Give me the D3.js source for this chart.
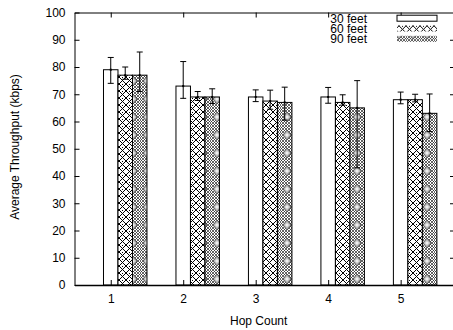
<!DOCTYPE html>
<html>
<head>
<meta charset="utf-8">
<script src="https://cdnjs.cloudflare.com/ajax/libs/d3/7.8.5/d3.min.js"></script>
<style>
body { margin: 0; background: #fff; }
svg { display: block; font-family: 'Liberation Sans', Arial, sans-serif; }
</style>
</head>
<body>
<script>
//chart data
var hops = [1, 2, 3, 4, 5];
var seriesNames = ['30 feet', '60 feet', '90 feet'];
var feet30 = [79, 73, 69, 69, 68];
var feet60 = [77, 69, 67.5, 67, 68];
var feet90 = [77, 69, 67, 65, 63];
//error bar low / high ends
var low30 = [74, 68.5, 67.3, 66.7, 66.5];
var high30 = [83.5, 82, 71.6, 72.5, 70.8];
var low60 = [75.5, 67.7, 64.5, 66, 67.2];
var high60 = [80, 71, 71.5, 69.8, 70];
var low90 = [71, 66.6, 60.5, 43, 56.3];
var high90 = [85.5, 72, 72.6, 75, 70.1];
var yTicks = [0, 10, 20, 30, 40, 50, 60, 70, 80, 90, 100];

var svgWidth = 453;
var svgHeight = 330;

var margin = {top: 12.5, left: 74.5, bottom: 285, right: 455};

var svg = d3.select('body')
    .append('svg')
    .attr('width', svgWidth)
    .attr('height', svgHeight);

var xScale = d3.scaleLinear().domain([0.5, 5.75]).range([margin.left, margin.right]);
var yScale = d3.scaleLinear().domain([0, 100]).range([margin.bottom, margin.top]);

//fill patterns, a rough stand-in for the gnuplot ones
var defs = svg.append('defs');

var p60 = defs.append('pattern')
    .attr('id', 'p60')
    .attr('patternUnits', 'userSpaceOnUse')
    .attr('width', 7)
    .attr('height', 7);
p60.append('rect').attr('width', 7).attr('height', 7).attr('fill', '#fff');
p60.append('path')
    .attr('d', 'M0,0L7,7M7,0L0,7')
    .attr('stroke', '#000')
    .attr('stroke-width', 1);
p60.append('rect').attr('x', 3).attr('y', 0).attr('width', 1).attr('height', 1).attr('fill', '#000');

var fine = defs.append('pattern')
    .attr('id', 'fine')
    .attr('patternUnits', 'userSpaceOnUse')
    .attr('width', 3)
    .attr('height', 3);
fine.append('rect').attr('width', 3).attr('height', 3).attr('fill', '#fff');
fine.append('path')
    .attr('d', 'M0,0L3,3M3,0L0,3')
    .attr('stroke', '#222')
    .attr('stroke-width', 0.7);

var p90 = defs.append('pattern')
    .attr('id', 'p90')
    .attr('patternUnits', 'userSpaceOnUse')
    .attr('width', 14)
    .attr('height', 18);
p90.append('rect').attr('width', 14).attr('height', 18).attr('fill', 'url(#fine)');
p90.append('path')
    .attr('d', 'M7,4L11,9L7,14L3,9Z')
    .attr('fill', '#bbb')
    .attr('stroke', '#444')
    .attr('stroke-width', 0.8);
p90.append('path')
    .attr('d', 'M7,7L9,9L7,11L5,9Z')
    .attr('fill', '#eee');

var fills = ['#fff', 'url(#p60)', 'url(#p90)'];

//one row per bar
var values = [feet30, feet60, feet90];
var lows = [low30, low60, low90];
var highs = [high30, high60, high90];
var bars = [];
seriesNames.forEach(function(name, s){
    hops.forEach(function(h, i){
        bars.push({hop: h, s: s, v: values[s][i], lo: lows[s][i], hi: highs[s][i]});
    });
});

var barW = xScale(0.2) - xScale(0);

var chart = svg.append('g');

chart.selectAll('rect.bar')
    .data(bars)
    .enter()
    .append('rect')
    .attr('class', 'bar')
    .attr('x', function(d){ return xScale(d.hop + 0.2 * d.s) - barW / 2; })
    .attr('y', function(d){ return yScale(d.v); })
    .attr('width', barW)
    .attr('height', function(d){ return yScale(0) - yScale(d.v); })
    .attr('fill', function(d){ return fills[d.s]; })
    .attr('stroke', '#000')
    .attr('stroke-width', 1);

//error bars
var err = chart.selectAll('g.err')
    .data(bars)
    .enter()
    .append('g')
    .attr('class', 'err')
    .attr('stroke', '#000')
    .attr('stroke-width', 1);

err.append('line')
    .attr('x1', function(d){ return xScale(d.hop + 0.2 * d.s); })
    .attr('x2', function(d){ return xScale(d.hop + 0.2 * d.s); })
    .attr('y1', function(d){ return yScale(d.lo); })
    .attr('y2', function(d){ return yScale(d.hi); });
err.append('line')
    .attr('x1', function(d){ return xScale(d.hop + 0.2 * d.s) - 3; })
    .attr('x2', function(d){ return xScale(d.hop + 0.2 * d.s) + 3; })
    .attr('y1', function(d){ return yScale(d.lo); })
    .attr('y2', function(d){ return yScale(d.lo); });
err.append('line')
    .attr('x1', function(d){ return xScale(d.hop + 0.2 * d.s) - 3; })
    .attr('x2', function(d){ return xScale(d.hop + 0.2 * d.s) + 3; })
    .attr('y1', function(d){ return yScale(d.hi); })
    .attr('y2', function(d){ return yScale(d.hi); });
err.append('rect')
    .attr('x', function(d){ return xScale(d.hop + 0.2 * d.s) - 1; })
    .attr('y', function(d){ return yScale(d.v) - 1; })
    .attr('width', 2)
    .attr('height', 2)
    .attr('fill', '#000')
    .attr('stroke', 'none');

//axes, gnuplot style with inward ticks on all four sides
var leftAxis = d3.axisLeft(yScale).tickValues(yTicks).tickSizeInner(-5).tickSizeOuter(0).tickPadding(9);
var rightAxis = d3.axisRight(yScale).tickValues(yTicks.slice(1, -1)).tickSizeInner(-5).tickSizeOuter(0).tickFormat('');
var bottomAxis = d3.axisBottom(xScale).tickValues(hops).tickSizeInner(-5).tickSizeOuter(0).tickPadding(9).tickFormat(d3.format('d'));
var topAxis = d3.axisTop(xScale).tickValues(hops).tickSizeInner(-5).tickSizeOuter(0).tickFormat('');

svg.append('g')
    .attr('transform', 'translate(' + margin.left + ',0)')
    .call(leftAxis);
svg.append('g')
    .attr('transform', 'translate(' + margin.right + ',0)')
    .call(rightAxis);
var xAxisG = svg.append('g')
    .attr('transform', 'translate(0,' + margin.bottom + ')')
    .call(bottomAxis);
svg.append('g')
    .attr('transform', 'translate(0,' + margin.top + ')')
    .call(topAxis);

svg.selectAll('.tick text')
    .attr('fill', '#000')
    .style('font-size', '12px')
    .style('font-family', "'Liberation Sans', Arial, sans-serif");
svg.selectAll('.domain, .tick line').attr('stroke', '#000');
xAxisG.select('.domain').attr('stroke-width', 1.6);

//axis titles
svg.append('text')
    .attr('transform', 'rotate(-90)')
    .attr('x', -147)
    .attr('y', 19)
    .attr('text-anchor', 'middle')
    .style('font-size', '12px')
    .text('Average Throughput (kbps)');

svg.append('text')
    .attr('x', (margin.left + xScale(5.5)) / 2 + 3)
    .attr('y', 325)
    .attr('text-anchor', 'middle')
    .style('font-size', '12px')
    .text('Hop Count');

//legend
var legend = svg.append('g')
    .selectAll('g')
    .data(seriesNames)
    .enter()
    .append('g')
    .attr('transform', function(d, i){ return 'translate(0,' + (22.5 + i * 10.3) + ')'; });

legend.append('text')
    .attr('x', 367)
    .attr('text-anchor', 'end')
    .style('font-size', '12px')
    .text(function(d){ return d; });

legend.append('rect')
    .attr('x', 397)
    .attr('y', -7.3)
    .attr('width', 40)
    .attr('height', 6)
    .attr('fill', function(d, i){ return fills[i]; })
    .attr('stroke', function(d, i){ return i == 0 ? '#000' : 'none'; })
    .attr('stroke-width', 1);
</script>
</body>
</html>
